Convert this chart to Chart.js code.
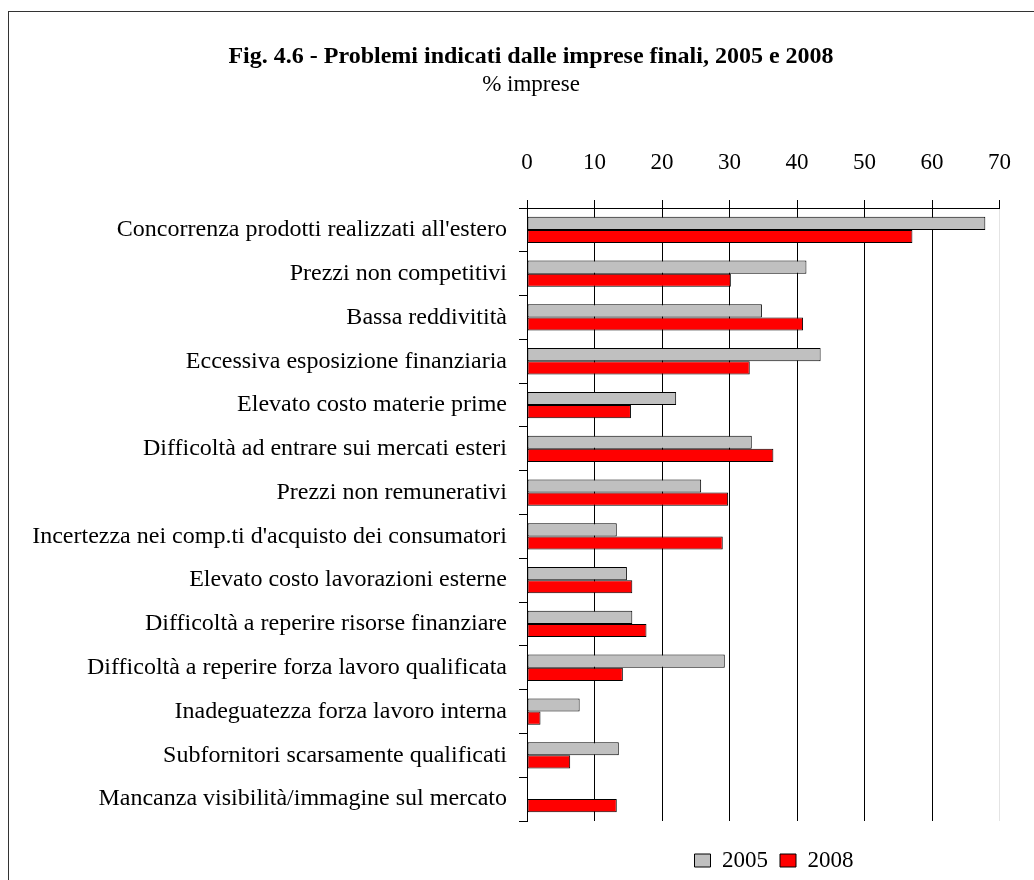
<!DOCTYPE html>
<html>
<head>
<meta charset="utf-8">
<script src="https://cdn.jsdelivr.net/npm/chart.js@4"></script>
<style>
  html, body { margin: 0; padding: 0; background: #fff; overflow: hidden; }
  #frame {
    position: absolute; left: 8px; top: 11px;
    width: 1100px; height: 1000px;
    border-left: 1.5px solid #333; border-top: 1.5px solid #333;
  }
  #chart { position: absolute; left: 0; top: 0; }
</style>
</head>
<body>
<div id="frame"></div>
<canvas id="chart" width="1034" height="880"></canvas>
<script>
const categories = [
  'Concorrenza prodotti realizzati all\'estero',
  'Prezzi non competitivi',
  'Bassa reddivitità',
  'Eccessiva esposizione finanziaria',
  'Elevato costo materie prime',
  'Difficoltà ad entrare sui mercati esteri',
  'Prezzi non remunerativi',
  'Incertezza nei comp.ti d\'acquisto dei consumatori',
  'Elevato costo lavorazioni esterne',
  'Difficoltà a reperire risorse finanziare',
  'Difficoltà a reperire forza lavoro qualificata',
  'Inadeguatezza forza lavoro interna',
  'Subfornitori scarsamente qualificati',
  'Mancanza visibilità/immagine sul mercato'
];

const values2005 = [67.9, 41.4, 34.8, 43.5, 22.1, 33.3, 25.8, 13.3, 14.8, 15.6, 29.3, 7.8, 13.6, null];
const values2008 = [57.1, 30.2, 40.9, 33.0, 15.4, 36.5, 29.8, 29.0, 15.6, 17.7, 14.2, 2.0, 6.4, 13.3];

const xTicks = [0, 10, 20, 30, 40, 50, 60, 70];

const serif = '"Liberation Serif", "Times New Roman", serif';

// legend sits under the plot area, and the long category labels may
// run past the left padding (the title is centred with that padding)
const layoutFix = {
  id: 'layoutFix',
  afterLayout(chart) {
    const lg = chart.legend;
    lg.left += 243;
    lg.right += 243;
    lg.top += 16;
    lg.bottom += 16;
    chart.scales.y.left = 0;
  }
};

new Chart(document.getElementById('chart'), {
  type: 'bar',
  data: {
    labels: categories,
    datasets: [
      {
        label: '2005',
        data: values2005,
        backgroundColor: '#c0c0c0',
        borderColor: '#000',
        borderWidth: 1,
        borderSkipped: false,
      },
      {
        label: '2008',
        data: values2008,
        backgroundColor: '#ff0000',
        borderColor: '#000',
        borderWidth: 1,
        borderSkipped: false,
      },
    ],
  },
  options: {
    indexAxis: 'y',
    responsive: false,
    animation: false,
    categoryPercentage: 0.6,
    barPercentage: 1,
    layout: {
      padding: { top: 0, left: 53, right: 25, bottom: 14 },
    },
    scales: {
      x: {
        position: 'top',
        min: 0,
        max: 70,
        afterBuildTicks: scale => {
          scale.ticks = xTicks.map(v => ({ value: v }));
        },
        grid: {
          color: ctx => (ctx.tick && ctx.tick.value === 70 ? '#e4e4e4' : '#000'),
          tickColor: '#000',
          tickLength: 8,
        },
        border: { display: true, color: '#000', width: 1 },
        ticks: {
          color: '#000',
          padding: 23,
          font: { family: serif, size: 23 },
        },
      },
      y: {
        afterFit: scale => {
          scale.width = 474;
        },
        grid: {
          offset: true,
          drawOnChartArea: false,
          color: '#000',
          tickLength: 8,
        },
        border: { display: true, color: '#000', width: 1 },
        ticks: {
          color: '#000',
          padding: 12,
          font: { family: serif, size: 24 },
        },
      },
    },
    plugins: {
      title: {
        display: true,
        text: 'Fig. 4.6 - Problemi indicati dalle imprese finali, 2005 e 2008',
        color: '#000',
        font: { family: serif, size: 24, weight: 'bold' },
        padding: { top: 42, bottom: 0 },
      },
      subtitle: {
        display: true,
        text: '% imprese',
        color: '#000',
        font: { family: serif, size: 23 },
        padding: { top: 0, bottom: 28 },
      },
      legend: {
        position: 'bottom',
        labels: {
          color: '#000',
          boxWidth: 16,
          boxHeight: 13,
          padding: 12,
          font: { family: serif, size: 23 },
        },
      },
      tooltip: { enabled: false },
    },
  },
  plugins: [layoutFix],
});
</script>
</body>
</html>
